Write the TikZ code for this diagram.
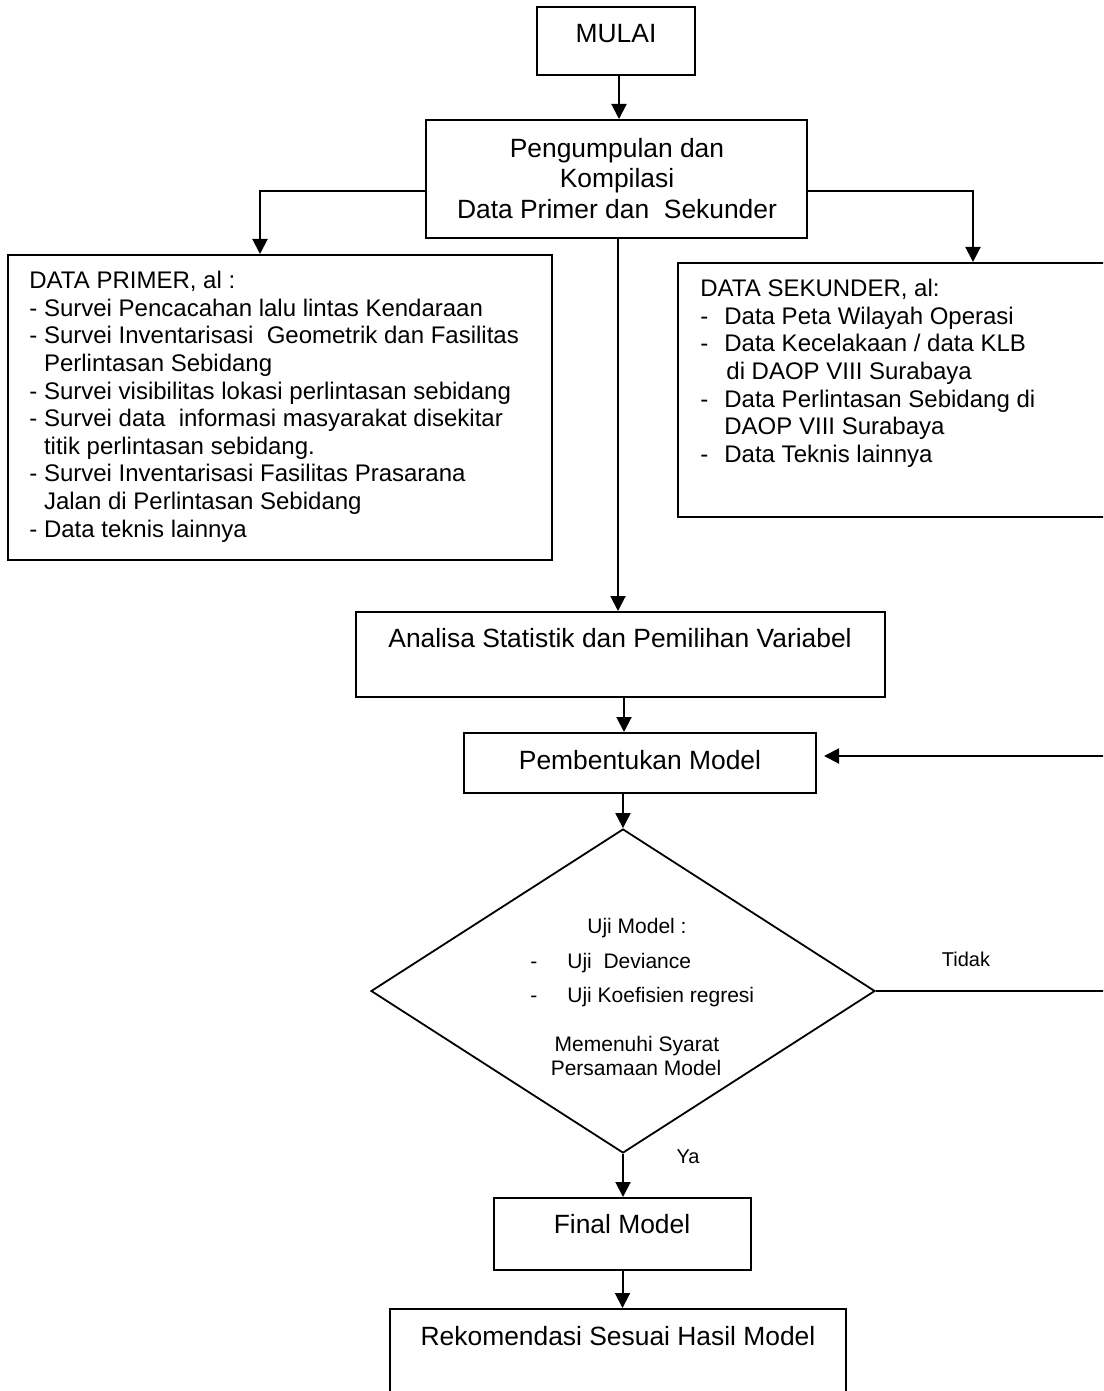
\documentclass[tikz,border=0pt]{standalone}
\usepackage{fontspec}
\setmainfont{Liberation Sans}
\usetikzlibrary{shapes.geometric,arrows.meta}
\begin{document}
\begin{tikzpicture}[x=0.5pt,y=-0.5pt,
  box/.style={draw, line width=1pt, inner sep=0pt},
  conn/.style={line width=1pt},
  arr/.style={conn, -{Triangle[length=7.5pt,width=7.5pt]}},
  txt/.style={inner sep=0pt},
  big/.style={txt, font=\fontsize{13.2}{15.2}\selectfont},
  mid/.style={txt, font=\fontsize{12}{13.8}\selectfont},
  small/.style={txt, font=\fontsize{10.5}{12}\selectfont},
  lbl/.style={txt, font=\fontsize{10}{11.5}\selectfont}]
\useasboundingbox (0,0) rectangle (1103,1391);
\clip (0,0) rectangle (1103,1391);
\fill[white] (0,0) rectangle (1103,1391);

% boxes
\node[box, minimum width=79pt, minimum height=34pt] (mulai) at (616,41) {};
\node[box, minimum width=190.5pt, minimum height=59pt] (kumpul) at (616.5,179) {};
\node[box, minimum width=272pt, minimum height=152.5pt] (primer) at (280,407.5) {};
\node[box, minimum width=218.5pt, minimum height=127pt] (sekunder) at (896.5,390) {};
\node[box, minimum width=264.5pt, minimum height=42.5pt] (analisa) at (620.5,654.5) {};
\node[box, minimum width=176pt, minimum height=30pt] (bentuk) at (640,763) {};
\node[draw, diamond, line width=0.9pt, minimum width=252pt, minimum height=162pt, inner sep=0pt] (uji) at (623,991) {};
\node[box, minimum width=128.5pt, minimum height=36pt] (final) at (622.5,1234) {};
\node[box, minimum width=228pt, minimum height=55.5pt] (rekom) at (618,1364.5) {};

% texts
\node[big, anchor=base] (tmulai) at (616,43) {MULAI};
\node[big, align=center, anchor=north] (tkumpul) at (617,138) {Pengumpulan dan\\Kompilasi\\Data Primer dan\ \ Sekunder};
\node[mid, align=left, anchor=north west] (tprimer) at (29,271) {DATA PRIMER, al :\\
- Survei Pencacahan lalu lintas Kendaraan\\
- Survei Inventarisasi\ \ Geometrik dan Fasilitas\\
\hspace*{7.33pt}Perlintasan Sebidang\\
- Survei visibilitas lokasi perlintasan sebidang\\
- Survei data\ \ informasi masyarakat disekitar\\
\hspace*{7.33pt}titik perlintasan sebidang.\\
- Survei Inventarisasi Fasilitas Prasarana\\
\hspace*{7.33pt}Jalan di Perlintasan Sebidang\\
- Data teknis lainnya};
\node[mid, align=left, anchor=north west] (tsekunder) at (700,279) {DATA SEKUNDER, al:\\
\makebox[12pt][l]{-}Data Peta Wilayah Operasi\\
\makebox[12pt][l]{-}Data Kecelakaan / data KLB\\
\hspace*{13pt}di DAOP VIII Surabaya\\
\makebox[12pt][l]{-}Data Perlintasan Sebidang di\\
\hspace*{12pt}DAOP VIII Surabaya\\
\makebox[12pt][l]{-}Data Teknis lainnya};
\node[big, anchor=base] (tanalisa) at (620,647) {Analisa Statistik dan Pemilihan Variabel};
\node[big, anchor=base] (tbentuk) at (640,769) {Pembentukan Model};
\node[small, anchor=base] (ujit) at (637,933) {Uji Model :};
\node[small, anchor=base west] (ujia) at (530,968) {\makebox[18.5pt][l]{-}Uji\ \ Deviance};
\node[small, anchor=base west] (ujib) at (530,1002) {\makebox[18.5pt][l]{-}Uji Koefisien regresi};
\node[small, anchor=base] (syarat1) at (637,1051) {Memenuhi Syarat};
\node[small, anchor=base] (syarat2) at (636,1075) {Persamaan Model};
\node[lbl, anchor=base] (tidak) at (966,966) {Tidak};
\node[lbl, anchor=base] (ya) at (688,1163) {Ya};
\node[big, anchor=base] (tfinal) at (622,1233) {Final Model};
\node[big, anchor=base] (trekom) at (618,1345) {Rekomendasi Sesuai Hasil Model};

% connectors
\draw[arr] ([xshift=1.5pt]mulai.south) -- ([xshift=1.5pt]mulai.south |- kumpul.north);
\draw[arr] ([yshift=-6pt]kumpul.west) -| ([xshift=-10pt]primer.north);
\draw[arr] ([yshift=-6pt]kumpul.east) -| ([xshift=38.25pt]sekunder.north);
\draw[arr] ([xshift=0.75pt]kumpul.south) -- ([xshift=0.75pt]kumpul.south |- analisa.north);
\draw[arr] ([xshift=1.75pt]analisa.south) -- ([xshift=1.75pt]analisa.south |- bentuk.north);
\draw[arr] (uji.north |- bentuk.south) -- (uji.north);
\draw[arr] (uji.south) -- (uji.south |- final.north);
\draw[arr] (final.south) -- (final.south |- rekom.north);
\draw[arr, shorten >=3.5pt] (uji.east) -- ++(240,0) |- ([yshift=3.5pt]bentuk.east);
\end{tikzpicture}
\end{document}
